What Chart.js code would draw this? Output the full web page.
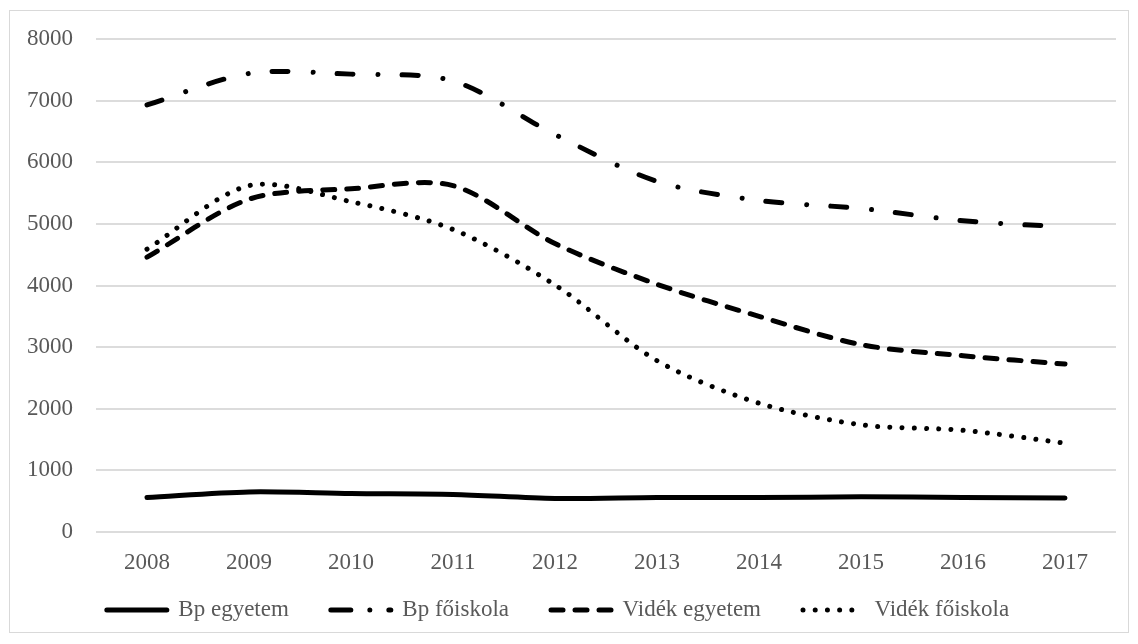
<!DOCTYPE html>
<html>
<head>
<meta charset="utf-8">
<script src="https://cdn.jsdelivr.net/npm/chart.js@4"></script>
<style>
  html, body { margin: 0; padding: 0; background: #fff; }
  #wrap {
    position: absolute; left: 9px; top: 10px;
    width: 1120px; height: 623px;
    border: 1px solid #d9d9d9; box-sizing: border-box;
  }
  canvas { display: block; }
</style>
</head>
<body>
<div id="wrap"><canvas id="chart" width="1118" height="621"></canvas></div>
<script>
// years on the category axis
const years = ['2008','2009','2010','2011','2012','2013','2014','2015','2016','2017'];

// series values
const bpEgyetem     = [560, 650, 625, 610, 545, 560, 560, 570, 560, 550];
const bpFoiskola    = [6930, 7440, 7430, 7320, 6450, 5690, 5380, 5250, 5050, 4950];
const videkEgyetem  = [4460, 5400, 5570, 5620, 4680, 4020, 3500, 3040, 2860, 2725];
const videkFoiskola = [4590, 5620, 5360, 4910, 4010, 2780, 2090, 1740, 1650, 1443];

const seriesNames = ['Bp egyetem', 'Bp főiskola', 'Vidék egyetem', 'Vidék főiskola'];

const yMin = 0, yMax = 8000, yStep = 1000;

const FONT = "'Liberation Serif', 'Times New Roman', serif";
const TEXT = '#595959';
const GRID = '#dcdcdc';
const LEGEND_PAD = 42;

function lineSet(label, data, dash) {
    return {
        label, data,
        borderColor: '#000',
        backgroundColor: '#000',
        borderWidth: 5,
        borderDash: dash,
        borderCapStyle: 'round',
        borderJoinStyle: 'round',
        pointRadius: 0,
        pointHoverRadius: 0,
        tension: 0.3,
        fill: false
    };
}

// dash patterns as drawn in the legend samples
const legendDash = [[], [20, 19, 0.01, 19], [12, 12], [0.01, 12.2]];

// the legend row sits below the year labels; move its box after layout
const legendShift = {
    id: 'legendShift',
    afterLayout(chart) {
        const lg = chart.legend;
        if (!lg) return;
        lg.top = 599 - LEGEND_PAD - 11.5;
        lg.bottom = chart.height;
        lg.height = lg.bottom - lg.top;
        lg.left -= 5;
        lg.right -= 5;
    }
};

new Chart(document.getElementById('chart').getContext('2d'), {
    type: 'line',
    data: {
        labels: years,
        datasets: [
            lineSet(seriesNames[0], bpEgyetem, []),
            lineSet(seriesNames[1], bpFoiskola, [16, 25, 0.01, 24]),
            lineSet(seriesNames[2], videkEgyetem, [12, 12]),
            lineSet(seriesNames[3], videkFoiskola, [0.01, 12.2])
        ]
    },
    plugins: [legendShift],
    options: {
        responsive: false,
        animation: false,
        events: [],
        layout: { padding: { left: 0, right: 12, top: 28, bottom: 10 } },
        plugins: {
            tooltip: { enabled: false },
            legend: {
                position: 'bottom',
                align: 'center',
                maxHeight: 30,
                labels: {
                    usePointStyle: true,
                    pointStyle: 'line',
                    pointStyleWidth: 60,
                    padding: LEGEND_PAD,
                    color: TEXT,
                    font: { family: FONT, size: 23 },
                    generateLabels(chart) {
                        const items = Chart.defaults.plugins.legend.labels.generateLabels(chart);
                        items.forEach((it, i) => {
                            it.lineDash = legendDash[i];
                            it.lineCap = 'round';
                            it.lineWidth = 5;
                            it.strokeStyle = '#000';
                            it.fillStyle = '#000';
                        });
                        return items;
                    }
                }
            }
        },
        scales: {
            x: {
                offset: true,
                grid: { display: false, drawTicks: false },
                border: { display: false },
                ticks: { color: TEXT, font: { family: FONT, size: 23 }, padding: 17, maxRotation: 0 },
                afterFit(scale) { scale.height = 60; }
            },
            y: {
                min: yMin, max: yMax,
                grid: { color: GRID, lineWidth: 2, drawTicks: false },
                border: { display: false },
                ticks: {
                    stepSize: yStep, color: TEXT, font: { family: FONT, size: 23 }, padding: 23,
                    callback: v => String(v)
                },
                afterFit(scale) {
                    scale.width = 86;
                    scale.paddingTop = 0;
                    scale.paddingBottom = 0;
                }
            }
        }
    }
});
</script>
</body>
</html>
